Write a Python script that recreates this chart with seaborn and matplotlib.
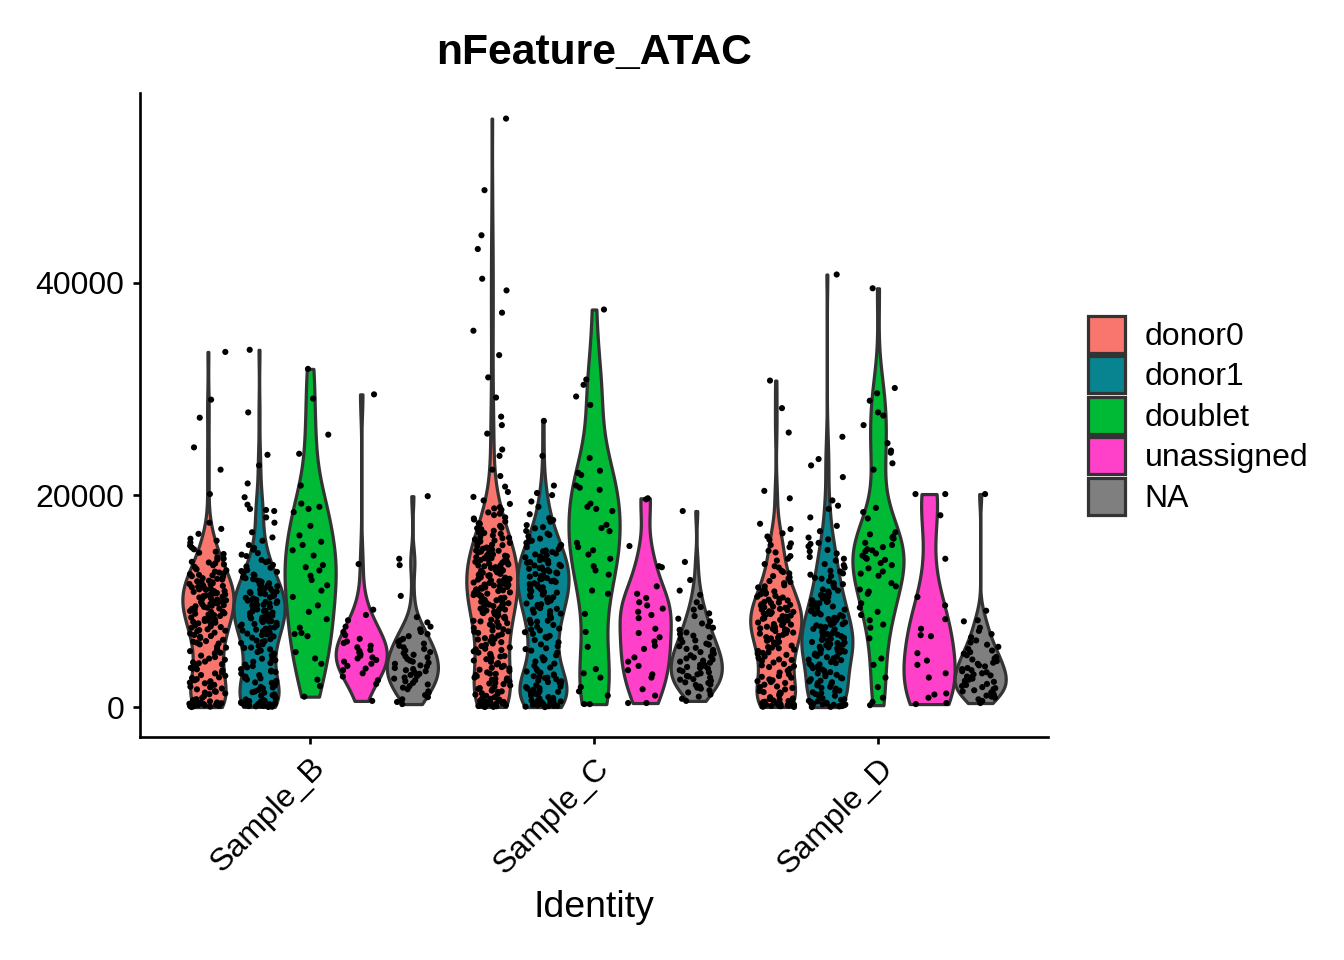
import pandas as pd
import numpy as np
import matplotlib
matplotlib.use("Agg")
import matplotlib.pyplot as plt
import seaborn as sns

# values, one list per sample / donor call
samples = ["Sample_B", "Sample_C", "Sample_D"]
calls = ["donor0", "donor1", "doublet", "unassigned", "NA"]
call_colors = ["#F8766D", "#07848F", "#00B934", "#FF40C9", "#7F7F7F"]

b_donor0 = [190, 240, 330, 410, 520, 630, 760, 880,
            1050, 1230, 1380, 1520, 1690, 1770, 1940,
            2110, 2260, 2370, 2540, 2650, 2820, 2970,
            3040, 3190, 3310, 3490, 3640, 3720, 3910,
            4060, 4230, 4310, 4480, 4590, 4730, 4870,
            5090, 5140, 5290, 5450, 5620, 5710, 5930,
            6010, 6180, 6240, 6360, 6530, 6640, 6810, 6950,
            7030, 7170, 7280, 7350, 7490, 7620, 7710, 7840, 7970,
            8060, 8140, 8250, 8310, 8470, 8530, 8690, 8740, 8860, 8990,
            9010, 9130, 9240, 9310, 9460, 9520, 9630, 9710, 9790, 9860, 9950,
            10020, 10160, 10240, 10350, 10430, 10510, 10640, 10720, 10830, 10880, 10960,
            11070, 11180, 11230, 11360, 11440, 11570, 11620, 11780, 11840, 11930,
            12040, 12170, 12310, 12430, 12560, 12620, 12790, 12910,
            13080, 13240, 13470, 13560, 13710, 13920,
            14130, 14450, 14660, 14890,
            15240, 15530, 15890, 16350, 16820, 17400,
            20100, 22400, 24500, 27300, 29000, 33500,
            60, 110, 140, 200, 270, 300, 380, 450, 560, 700,
            20, 100, 230, 310, 420, 1460, 1880, 2330, 2760,
            1310, 2450, 3580, 4150, 5380, 6090, 6720, 7220, 7560, 7910,
            8180, 8390, 8610, 8820, 9080, 9270, 9390, 9570, 9740, 9910,
            10080, 10290, 10470, 10580, 10770, 10940, 11120, 11310, 11490,
            11690, 11880, 12110, 12360, 12480, 12700, 13010, 13390, 13650,
            14020, 14570, 15060, 15700]
b_donor1 = [160, 270, 350, 460, 580, 690, 810, 940,
            1090, 1210, 1370, 1490, 1630, 1780, 1920,
            2050, 2190, 2340, 2480, 2610, 2750, 2890,
            3030, 3170, 3320, 3450, 3590, 3760, 3880,
            4020, 4170, 4290, 4430, 4580, 4720, 4910,
            5060, 5210, 5340, 5470, 5630, 5780, 5940,
            6050, 6170, 6290, 6420, 6560, 6680, 6810, 6940,
            7020, 7110, 7230, 7320, 7410, 7530, 7640, 7720, 7850, 7960,
            8030, 8120, 8210, 8290, 8380, 8460, 8550, 8640, 8730, 8820, 8930,
            9040, 9110, 9220, 9310, 9390, 9480, 9570, 9660, 9740, 9830, 9940,
            10050, 10140, 10260, 10370, 10480, 10590, 10670, 10780, 10860, 10970,
            11080, 11210, 11350, 11470, 11580, 11690, 11820, 11940,
            12080, 12260, 12440, 12590, 12760, 12930,
            13150, 13420, 13680, 13890,
            14250, 14540, 14860, 15300, 15700, 16500,
            17400, 18500, 18700, 19800, 21100, 22800, 23800, 27800, 33700,
            50, 90, 130, 180, 220, 260, 310, 370, 430, 520, 610, 740,
            30, 110, 200, 290, 400, 1420, 1860, 2300, 2720,
            1150, 2270, 3380, 4510, 5590, 6230, 6870, 7180, 7470, 7790,
            8080, 8330, 8590, 8870, 9080, 9270, 9450, 9620, 9790, 9980,
            10110, 10320, 10530, 10720, 10910, 11150, 11410, 11630, 11890,
            12170, 12510, 12840, 13270, 13760, 14390, 15020, 16010, 17900,
            18600, 19100]
b_doublet = [31900, 29100, 25700, 23900, 20900, 19200, 18900, 18700, 18400,
             17100, 16200, 15600, 15300, 14800, 14300, 13400, 13200, 12900,
             12400, 12000, 11500, 11000, 10400, 9600, 9000, 8300, 7500, 7000,
             6900, 6700, 5200, 4600, 4100, 2600, 2000, 1000]
b_unassigned = [29500, 13500, 9200, 8700, 8200, 7600, 7100, 6800, 6450, 6200,
                6050, 5800, 5650, 5400, 5300, 5150, 5000, 4850, 4700, 4600,
                4450, 4300, 4100, 3900, 3650, 3500, 3200, 2900, 2550, 2200, 600]
b_na = [19900, 14000, 13400, 10500, 8500, 8000, 7600, 7350, 7100, 6900, 6700,
        6450, 6300, 6150, 6000, 5800, 5650, 5500, 5350, 5200, 5100, 4950, 4800,
        4700, 4550, 4400, 4300, 4200, 4100, 3950, 3850, 3700, 3600, 3500, 3400,
        3300, 3150, 3050, 2950, 2800, 2700, 2550, 2450, 2300, 2150, 2000, 1850,
        1700, 1500, 1350, 1150, 950, 750, 500, 300]

c_donor0 = [150, 230, 310, 420, 500, 610, 720, 830, 950,
            1080, 1190, 1330, 1450, 1570, 1690, 1810, 1940,
            2060, 2180, 2300, 2430, 2550, 2680, 2800, 2930,
            3050, 3170, 3290, 3420, 3540, 3660, 3790, 3910,
            4040, 4160, 4280, 4410, 4530, 4650, 4780, 4900,
            5030, 5150, 5270, 5400, 5520, 5640, 5770, 5890,
            6020, 6140, 6260, 6390, 6510, 6630, 6760, 6880,
            7010, 7120, 7240, 7350, 7470, 7580, 7700, 7810, 7930,
            8040, 8150, 8250, 8360, 8460, 8570, 8670, 8780, 8880, 8990,
            9030, 9120, 9210, 9300, 9400, 9490, 9580, 9670, 9760, 9850, 9950,
            10040, 10120, 10210, 10290, 10370, 10460, 10540, 10620, 10710, 10790, 10870, 10960,
            11030, 11110, 11180, 11260, 11340, 11410, 11490, 11570, 11640, 11720, 11800, 11870, 11950,
            12030, 12110, 12180, 12260, 12340, 12410, 12490, 12570, 12640, 12720, 12800, 12870, 12950,
            13040, 13120, 13210, 13290, 13370, 13460, 13540, 13620, 13710, 13790, 13870, 13960,
            14050, 14140, 14230, 14320, 14410, 14500, 14590, 14680, 14770, 14860, 14950,
            15060, 15170, 15280, 15390, 15500, 15610, 15720, 15830, 15940,
            16070, 16210, 16350, 16500, 16640, 16780, 16920,
            17100, 17300, 17500, 17700, 17900,
            18120, 18370, 18620, 18870, 19170, 19500, 19830,
            20300, 20800, 21800, 22400, 23700,
            24300, 25800, 26600, 27400, 29200,
            31100, 33200, 35500, 37200, 39300,
            40400, 43200, 44500, 48750, 55500,
            40, 80, 120, 170, 210, 260, 290, 340, 390, 450, 520, 580, 660, 790,
            30, 100, 190, 280, 370, 470, 1260, 1730, 2240, 2710, 3150,
            1500, 2600, 3720, 4840, 5460, 6440, 7160, 7640, 8090, 8520,
            8940, 9260, 9540, 9810, 10080, 10330, 10580, 10830, 11070, 11300,
            11530, 11760, 11990, 12220, 12450, 12680, 12910, 13140, 13370,
            13600, 13830, 14060, 14290, 14520, 14750, 15010, 15330, 15650,
            15980, 16430, 16880, 17350, 17800, 18250, 18750]
c_donor1 = [140, 290, 410, 560, 690, 820, 960,
            1100, 1240, 1380, 1530, 1660, 1800, 1950,
            2080, 2220, 2370, 2510, 2650, 2790, 2930,
            3090, 3260, 3420, 3590, 3750, 3910,
            4120, 4310, 4530, 4720, 4900,
            5150, 5340, 5560, 5750, 5930,
            6120, 6340, 6550, 6730, 6920,
            7080, 7250, 7420, 7590, 7760, 7930,
            8070, 8240, 8410, 8580, 8750, 8920,
            9060, 9210, 9350, 9490, 9640, 9780, 9920,
            10060, 10180, 10310, 10430, 10560, 10690, 10810, 10940,
            11060, 11180, 11310, 11430, 11560, 11690, 11810, 11940,
            12060, 12180, 12310, 12430, 12560, 12690, 12810, 12940,
            13060, 13180, 13310, 13430, 13560, 13690, 13810, 13940,
            14070, 14210, 14350, 14490, 14640, 14780, 14920,
            15100, 15300, 15500, 15700, 15900,
            16120, 16370, 16620, 16870, 17170, 17500, 17830,
            18900, 19400, 20000, 20200, 20900, 23700, 27000,
            60, 110, 170, 230, 300, 360, 470, 550, 630, 880,
            20, 130, 260, 390, 1460, 1900, 2320, 2760,
            1320, 2450, 3370, 4420, 5480, 6610, 7340, 8160, 8830, 9280,
            9710, 10120, 10370, 10620, 10880, 11120, 11370, 11620, 11880,
            12120, 12370, 12620, 12880, 13120, 13370, 13620, 13880, 14130,
            14410, 14700, 15200, 15600, 16240, 16980, 17650, 18200, 1760,
            2870, 3020, 640]
c_doublet = [37500, 30900, 30400, 29300, 28500, 23500, 22300, 22100, 21900,
             20900, 20700, 20500, 19200, 18900, 18700, 18500, 17200, 16900,
             16600, 15500, 15100, 14800, 14400, 14000, 13300, 12900, 12500,
             11000, 10700, 8800, 7100, 5700, 3600, 3200, 2800, 1900, 1500,
             1100, 300, 300]
c_unassigned = [19700, 19600, 15200, 13300, 13200, 11400, 10700, 10300, 9900,
                9600, 9300, 9000, 8700, 8400, 7400, 7000, 6600, 6200, 5800,
                5500, 4700, 4300, 3900, 3500, 3100, 2800, 1700, 1100, 400, 400]
c_na = [18500, 13700, 12000, 11000, 10600, 9900, 9450, 9200, 8850, 8600, 8350,
        8100, 7900, 7650, 7500, 7300, 7050, 6900, 6750, 6600, 6450, 6300, 6150,
        6000, 5900, 5750, 5600, 5500, 5400, 5250, 5200, 5050, 4900, 4800, 4700,
        4600, 4500, 4400, 4300, 4200, 4100, 4000, 3900, 3800, 3700, 3650, 3500,
        3400, 3300, 3200, 3100, 2950, 2900, 2800, 2650, 2600, 2500, 2350, 2300,
        2150, 2100, 1950, 1850, 1750, 1600, 1400, 1200, 1000, 800, 600]

d_donor0 = [120, 240, 360, 480, 590, 710, 830, 950,
            1110, 1250, 1390, 1540, 1680, 1820, 1960,
            2130, 2290, 2460, 2630, 2790, 2950,
            3110, 3280, 3450, 3620, 3790, 3950,
            4080, 4220, 4370, 4510, 4650, 4790, 4940,
            5060, 5180, 5310, 5430, 5560, 5680, 5810, 5930,
            6050, 6160, 6270, 6380, 6490, 6610, 6720, 6830, 6940,
            7040, 7140, 7240, 7340, 7440, 7540, 7640, 7740, 7840, 7940,
            8040, 8140, 8240, 8340, 8440, 8540, 8640, 8740, 8840, 8940,
            9050, 9160, 9270, 9380, 9490, 9600, 9710, 9820, 9930,
            10070, 10210, 10350, 10500, 10640, 10780, 10920,
            11100, 11300, 11500, 11700, 11900,
            12120, 12370, 12620, 12870,
            13170, 13500, 13830, 14250, 14750,
            15100, 15450, 15800, 16400, 16800,
            17300, 19700, 20400, 25900, 28200, 30800,
            50, 100, 160, 210, 280, 340, 410, 520, 650, 780,
            30, 130, 240, 370, 1430, 1900, 2380, 2870,
            1330, 2540, 3870, 4460, 5120, 5620, 6100, 6550, 6990, 7190,
            7390, 7590, 7790, 7990, 8190, 8390, 8590, 8790, 8990, 9210,
            9430, 9650, 9870, 10140, 10420, 10700, 11000, 11400, 11800,
            12250, 12750, 13300, 14000, 14600, 15300, 16100]
d_donor1 = [140, 280, 420, 560, 700, 840, 980,
            1080, 1250, 1410, 1580, 1750, 1920,
            2070, 2210, 2360, 2500, 2640, 2790, 2930,
            3060, 3190, 3310, 3440, 3560, 3690, 3810, 3940,
            4050, 4160, 4270, 4380, 4490, 4610, 4720, 4830, 4940,
            5050, 5150, 5250, 5350, 5450, 5550, 5650, 5750, 5850, 5950,
            6050, 6150, 6250, 6350, 6450, 6550, 6650, 6750, 6850, 6950,
            7060, 7170, 7280, 7390, 7500, 7610, 7720, 7830, 7940,
            8060, 8190, 8310, 8440, 8560, 8690, 8810, 8940,
            9070, 9210, 9360, 9500, 9640, 9790, 9930,
            10080, 10250, 10410, 10580, 10750, 10920,
            11100, 11300, 11500, 11700, 11900,
            12120, 12370, 12620, 12870,
            13170, 13500, 13830, 14170, 14500, 14830,
            15170, 15500, 15830,
            17100, 17900, 18700, 19000, 19500, 21700, 22800, 23400, 25500, 40800,
            40, 90, 150, 200, 260, 330, 390, 480, 610, 760,
            20, 120, 230, 350, 1330, 1830, 2280, 2720,
            1500, 2440, 3120, 3630, 4110, 4440, 4770, 5100, 5300, 5500,
            5700, 5900, 6100, 6300, 6500, 6700, 6900, 7120, 7340, 7560,
            7780, 8000, 8380, 8750, 9130, 9570, 10000, 10500, 11000, 11600,
            12200, 12800, 13400, 14000, 14700, 15400, 16000, 16600, 12500, 9800]
d_doublet = [39500, 30100, 29600, 28900, 27800, 27500, 26600, 24900, 24200,
             24000, 23000, 22400, 18800, 18400, 17800, 16500, 16300, 16100,
             16000, 15900, 15500, 15300, 15100, 14900, 14800, 14700, 14500,
             14300, 14100, 14000, 13900, 13600, 13400, 13100, 12800, 12600,
             12400, 11700, 11400, 11100, 10900, 10700, 9800, 9400, 9000, 8700,
             8200, 7800, 7500, 6500, 4600, 4000, 2800, 1900, 900, 500, 200]
d_unassigned = [20100, 20100, 18100, 14000, 10400, 9600, 8300, 7400, 6800,
                6700, 5100, 4400, 4000, 3200, 2800, 1300, 1200, 900, 400, 300]
d_na = [20100, 9100, 8200, 8100, 7500, 7200, 6900, 6600, 6300, 6100, 5900,
        5700, 5500, 5350, 5200, 5050, 4900, 4750, 4600, 4500, 4350, 4200, 4100,
        3950, 3850, 3700, 3600, 3500, 3400, 3300, 3200, 3100, 3000, 2900, 2800,
        2700, 2600, 2500, 2400, 2300, 2200, 2100, 2000, 1900, 1800, 1700, 1600,
        1500, 1400, 1300, 1200, 1100, 1000, 900, 750, 600, 400]

groups = {
    ("Sample_B", "donor0"): b_donor0, ("Sample_B", "donor1"): b_donor1,
    ("Sample_B", "doublet"): b_doublet, ("Sample_B", "unassigned"): b_unassigned,
    ("Sample_B", "NA"): b_na,
    ("Sample_C", "donor0"): c_donor0, ("Sample_C", "donor1"): c_donor1,
    ("Sample_C", "doublet"): c_doublet, ("Sample_C", "unassigned"): c_unassigned,
    ("Sample_C", "NA"): c_na,
    ("Sample_D", "donor0"): d_donor0, ("Sample_D", "donor1"): d_donor1,
    ("Sample_D", "doublet"): d_doublet, ("Sample_D", "unassigned"): d_unassigned,
    ("Sample_D", "NA"): d_na,
}
rows = []
for (ident, call), vals in groups.items():
    for v in vals:
        rows.append((ident, call, v))
df = pd.DataFrame(rows, columns=["Identity", "call", "nFeature_ATAC"])

sns.set_style("ticks")
plt.rcParams["font.family"] = ["Liberation Sans", "DejaVu Sans"]
plt.rcParams["text.color"] = "black"
plt.rcParams["axes.labelcolor"] = "black"

fig, ax = plt.subplots(figsize=(7, 5), dpi=192)
fig.subplots_adjust(left=0.104, right=0.780, top=0.903, bottom=0.232)

sns.violinplot(data=df, x="Identity", y="nFeature_ATAC", hue="call",
               order=samples, hue_order=calls, palette=call_colors,
               saturation=1, density_norm="width", cut=0, inner=None,
               width=0.9, gap=0, bw_adjust=0.8, linewidth=1.2,
               linecolor="#333333", ax=ax)

n_before = len(ax.collections)
np.random.seed(1)
sns.stripplot(data=df, x="Identity", y="nFeature_ATAC", hue="call",
              order=samples, hue_order=calls,
              palette=["black"] * len(calls), dodge=True, jitter=0.29,
              size=2.3, linewidth=0, legend=False, ax=ax, zorder=3)
# stripplot dodges with width .8, stretch to match the .9 violins
for coll in ax.collections[n_before:]:
    off = coll.get_offsets()
    centre = np.round(off[:, 0])
    off[:, 0] = centre + (off[:, 0] - centre) * 0.9 / 0.8
    coll.set_offsets(off)

ax.set_xlim(-0.6, 2.6)
ax.set_ylim(-2830, 57900)
ax.set_yticks([0, 20000, 40000])
ax.set_yticklabels(["0", "20000", "40000"])
ax.tick_params(axis="both", labelsize=12, length=2.75, width=1,
               colors="black", pad=3)
plt.setp(ax.get_xticklabels(), rotation=45, ha="right", rotation_mode="anchor")
ax.set_xlabel("Identity", fontsize=14, labelpad=4)
ax.set_ylabel("")
ax.set_title("nFeature_ATAC", fontsize=16, fontweight="bold", pad=11)
for s in ["left", "bottom"]:
    ax.spines[s].set_linewidth(1)
    ax.spines[s].set_color("black")
sns.despine(ax=ax)

handles, labels = ax.get_legend_handles_labels()
ax.legend(handles[:len(calls)], labels[:len(calls)], loc="center left",
          bbox_to_anchor=(1.03, 0.5), frameon=False, fontsize=12,
          handlelength=1.15, handleheight=1.4, labelspacing=0.11,
          handletextpad=0.6, borderaxespad=0)

fig.savefig("out.png", dpi=192)
